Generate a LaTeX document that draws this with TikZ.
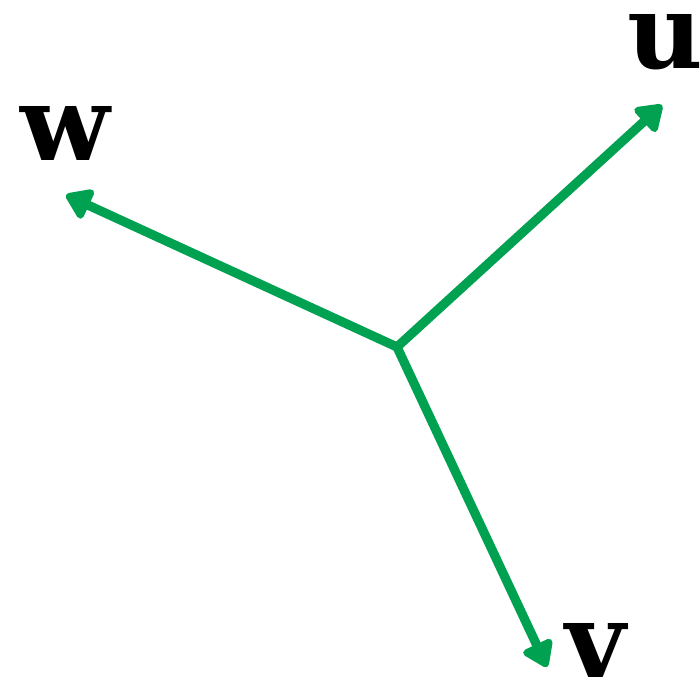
\documentclass[tikz,border=0pt]{standalone}
\usepackage{fontspec}
\setmainfont{DejaVu Serif}
\usetikzlibrary{arrows.meta}
\definecolor{vecgreen}{RGB}{0,161,80}
\tikzset{
	vec/.style = {vecgreen, line width = 0.23cm, -{Triangle[round, length = 0.7cm, width = 0.9cm]}},
	lbl/.style = {font = \fontsize{74}{74}\selectfont\bfseries, inner sep = 0pt}
}
\begin{document}
\begin{tikzpicture}[x = 0.025cm, y = 0.025cm]
		\useasboundingbox (0,0) rectangle (700,679);
		\coordinate (o) at (397,332);
		\coordinate (u) at (662,574);
		\coordinate (w) at (66,484);
		\coordinate (v) at (547,12);
		\draw [vec] (o) -- (u);
		\draw [vec] (o) -- (w);
		\draw [vec] (o) -- (v);
		\node [lbl] (ulabel) at (665,637) {u};
		\node [lbl] (wlabel) at (65,546) {w};
		\node [lbl] (vlabel) at (596,29) {v};
	\end{tikzpicture}
\end{document}
